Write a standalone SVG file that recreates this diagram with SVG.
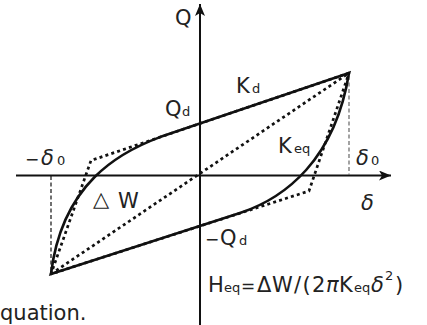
<svg xmlns="http://www.w3.org/2000/svg" width="427" height="325" viewBox="0 0 427 325">
<style>
.ax{stroke:#111;stroke-width:2;fill:none}
.sol{stroke:#111;stroke-width:2.6;fill:none;stroke-linejoin:round}
.dot{stroke:#111;stroke-width:2.7;fill:none;stroke-dasharray:3 3.2}
.dashg{stroke:#666;stroke-width:1.2;fill:none;stroke-dasharray:4 2.5}
.dashk{stroke:#111;stroke-width:1.2;fill:none;stroke-dasharray:4 2.5}
text{font-family:"DejaVu Sans","Noto Sans",sans-serif;fill:#222}
.m{font-size:21px}
.s{font-size:13px}
.n{font-size:17px}
.i{font-style:italic}
</style>
<defs>
<marker id="arr" viewBox="0 0 12 10" refX="12" refY="5" markerUnits="userSpaceOnUse" markerWidth="12" markerHeight="10" orient="auto">
<path d="M0,0 L12,5 L0,10 L3,5 Z" fill="#111"/>
</marker>
</defs>
<g id="axes">
<line class="ax" x1="200" y1="325" x2="200" y2="4" marker-end="url(#arr)"/>
<line class="ax" x1="16" y1="175.5" x2="391" y2="175.5" marker-end="url(#arr)"/>
</g>
<g id="connectors">
<line class="dashg" x1="349" y1="76" x2="349" y2="175"/>
<line class="dashk" x1="51" y1="176" x2="51" y2="272"/>
<path id="hysteresis" class="sol" d="M349,73 L160,137.1 C120,152 62,183 51,274 L240,213 C285,198 335,160 349,73 Z"/>
<path id="bilinear" class="dot" d="M349,73 L91,160.5 L51,274 L309,191 Z"/>
<line id="keq-line" class="dot" x1="51" y1="274" x2="349" y2="73"/>
</g>
<g id="labels">
<text class="m" x="175" y="25">Q</text>
<text class="m" x="165" y="116">Q<tspan class="s" x="182">d</tspan></text>
<text class="m" x="236" y="93">K<tspan class="s" x="252">d</tspan></text>
<text class="m" x="278" y="153">K<tspan class="s" x="294">eq</tspan></text>
<text class="m" x="356" y="165"><tspan class="i">δ</tspan><tspan class="s" x="371">0</tspan></text>
<text class="m" x="25" y="165"><tspan class="n">−</tspan><tspan class="i" x="41">δ</tspan><tspan class="s" x="57">0</tspan></text>
<text class="m i" x="361" y="210">δ</text>
<text class="m" x="93" y="206">△<tspan x="118" y="208">W</tspan></text>
<text class="m" x="205" y="245"><tspan class="n">−</tspan><tspan x="220">Q</tspan><tspan class="s" x="239">d</tspan></text>
<text class="m" x="208" y="291.5">H<tspan class="s" x="224">eq</tspan><tspan class="n" x="241">=</tspan><tspan x="257">Δ</tspan><tspan x="272">W</tspan><tspan x="294">/</tspan><tspan x="302.5">(</tspan><tspan x="312">2</tspan><tspan class="i" x="326">π</tspan><tspan x="339">K</tspan><tspan class="s" x="354">eq</tspan><tspan class="i" x="371">δ</tspan><tspan class="s" x="385" y="280">2</tspan><tspan x="395" y="291.5">)</tspan></text>
<text x="0" y="320" style="font-size:21px">quation.</text>
</g>
</svg>
